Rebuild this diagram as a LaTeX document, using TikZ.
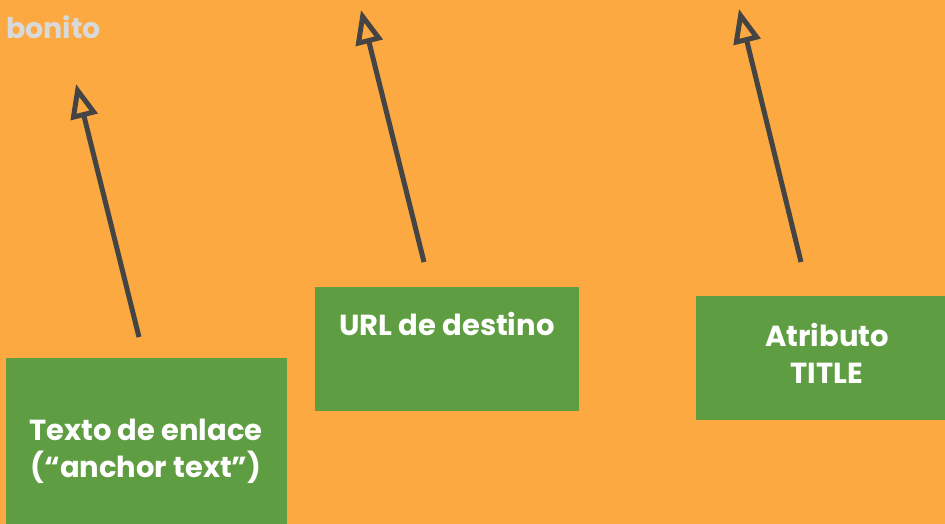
\documentclass[tikz,border=0pt]{standalone}
\usepackage{fontspec}
\setmainfont{Poppins}
\usetikzlibrary{arrows.meta}
\definecolor{bgorange}{HTML}{FDA942}
\definecolor{boxgreen}{HTML}{5F9D42}
\definecolor{arrowgray}{HTML}{444444}
\definecolor{logogray}{HTML}{D9D9D9}
\tikzset{
  greenbox/.style={fill=boxgreen, draw=none, inner sep=0pt, text=white,
    font=\bfseries\fontsize{29}{37}\selectfont, align=center},
  pointer/.style={draw=arrowgray, line width=5pt,
    -{Triangle[open, length=34pt, width=27pt, line width=5pt]}},
}
\begin{document}
\begin{tikzpicture}[x=1pt, y=-1pt]
\fill[bgorange] (0,0) rectangle (945,524);
\useasboundingbox (0,0) rectangle (945,524);
% logo
\node[anchor=base west, inner sep=0pt, text=logogray, font=\bfseries\fontsize{28.5}{32}\selectfont] (logo) at (6,39) {bonito};
% boxes
\node[greenbox, minimum width=281pt, minimum height=166pt, anchor=north west] (b1) at (6,358) {};
\node[greenbox, minimum width=264pt, minimum height=124pt, anchor=north west] (b2) at (315,287) {};
\node[greenbox, minimum width=249pt, minimum height=124pt, anchor=north west] (b3) at (696,296) {};
% texts
\node[greenbox, fill=none, anchor=base] (t1) at (146,477) {Texto de enlace\\(“anchor text”)};
\node[greenbox, fill=none, anchor=base] (t2) at (447,335) {URL de destino};
\node[greenbox, fill=none, anchor=base] (t3) at (827,383) {Atributo\\TITLE};
% arrows
\coordinate (s1) at (139,337);
\coordinate (e1) at (76,84);
\coordinate (s2) at (424,262);
\coordinate (e2) at (361,10);
\coordinate (s3) at (801,262);
\coordinate (e3) at (739,9);
\draw[pointer] (s1) -- (e1);
\draw[pointer] (s2) -- (e2);
\draw[pointer] (s3) -- (e3);
\end{tikzpicture}
\end{document}
